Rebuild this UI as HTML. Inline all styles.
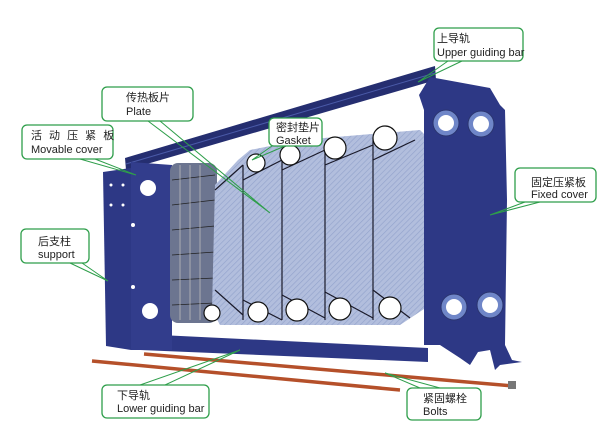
<!DOCTYPE html>
<html><head><meta charset="utf-8"><style>
html,body{margin:0;padding:0;background:#fff;width:600px;height:427px;overflow:hidden}
.t{font-family:"Liberation Sans","Noto Sans CJK SC",sans-serif;font-size:11px;fill:#222}
</style></head><body>
<svg width="600" height="427" viewBox="0 0 600 427" xmlns="http://www.w3.org/2000/svg">
<defs>
<pattern id="hatch" width="4" height="4" patternUnits="userSpaceOnUse" patternTransform="rotate(45)">
<rect width="4" height="4" fill="#b2bedd"/><line x1="0" y1="0" x2="0" y2="4" stroke="#93a3cc" stroke-width="1.3"/>
</pattern>
</defs>
<!-- upper bar -->
<polygon points="125,158 435,66 436,80 126,170" fill="#252e70"/>
<line x1="126" y1="164" x2="435" y2="73" stroke="#4a5aa8" stroke-width="1"/>
<!-- bottom rail -->
<polygon points="160,335 428,348 428,362 140,350" fill="#2d3885"/>
<!-- left support -->
<polygon points="103,172 131,168 131,350 106,346" fill="#2d3885"/>
<!-- movable cover -->
<polygon points="131,162 172,165 172,350 131,350" fill="#323d8c"/>
<circle cx="148" cy="188" r="8" fill="#fff"/>
<circle cx="150" cy="311" r="8" fill="#fff"/>
<circle cx="111" cy="185" r="1.5" fill="#fff"/><circle cx="123" cy="185" r="1.5" fill="#fff"/>
<circle cx="111" cy="205" r="1.5" fill="#fff"/><circle cx="123" cy="205" r="1.5" fill="#fff"/>
<circle cx="133" cy="225" r="2" fill="#fff"/><circle cx="133" cy="287" r="2" fill="#fff"/>
<!-- plate stack -->
<rect x="170" y="163" width="47" height="160" rx="8" fill="#6c7590"/>
<g stroke="#222" stroke-width="0.8">
<line x1="172" y1="180" x2="215" y2="175"/><line x1="172" y1="205" x2="215" y2="200"/><line x1="172" y1="230" x2="215" y2="226"/><line x1="172" y1="255" x2="215" y2="252"/><line x1="172" y1="280" x2="215" y2="278"/><line x1="172" y1="305" x2="215" y2="303"/>
<line x1="180" y1="165" x2="180" y2="320" stroke="#bbb"/><line x1="190" y1="165" x2="190" y2="320" stroke="#bbb"/><line x1="200" y1="165" x2="200" y2="320" stroke="#bbb"/>
</g>
<!-- plates -->
<polygon points="215,185 238,160 250,150 300,140 420,130 430,140 430,305 400,325 220,325 212,310" fill="url(#hatch)"/>
<g stroke="#1a1a2a" stroke-width="1.2" fill="none">
<path d="M243,165 L243,320"/><path d="M282,155 L282,320"/><path d="M325,145 L325,320"/><path d="M373,138 L373,320"/>
<path d="M215,190 L243,165 M243,180 L282,160 M282,170 L325,150 M325,165 L373,145 M373,160 L415,140"/>
<path d="M215,290 L243,315 M243,300 L282,320 M282,295 L325,318 M325,292 L373,318 M373,290 L410,318"/>
</g>
<g fill="#fff" stroke="#111" stroke-width="1.2">
<circle cx="256" cy="163" r="9"/><circle cx="290" cy="155" r="10"/><circle cx="335" cy="148" r="11"/><circle cx="385" cy="138" r="12"/>
<circle cx="212" cy="313" r="8"/><circle cx="258" cy="312" r="10"/><circle cx="297" cy="310" r="11"/><circle cx="340" cy="309" r="11"/><circle cx="390" cy="308" r="11"/>
</g>
<!-- fixed cover -->
<polygon points="419,95 430,77 490,88 500,105 505,110 507,200 505,345 512,360 522,362 500,365 495,370 490,350 478,352 470,365 460,358 440,345 424,345 424,110" fill="#2d3885"/>
<g fill="#6f86c8" stroke="#2b356f" stroke-width="1">
<circle cx="446" cy="123" r="13"/><circle cx="481" cy="124" r="13"/><circle cx="454" cy="307" r="13"/><circle cx="490" cy="305" r="13"/>
</g>
<g fill="#fff"><circle cx="446" cy="123" r="8"/><circle cx="481" cy="124" r="8"/><circle cx="454" cy="307" r="8"/><circle cx="490" cy="305" r="8"/></g>
<!-- bolts -->
<line x1="92" y1="361" x2="400" y2="390" stroke="#b5502a" stroke-width="3.5"/>
<line x1="144" y1="354" x2="513" y2="386" stroke="#b5502a" stroke-width="3.5"/>
<rect x="508" y="381" width="8" height="8" fill="#777"/>
<!-- leaders -->
<g stroke="#2e9e4a" stroke-width="1" fill="none">
<path d="M448,61 L418,82 L462,61"/>
<path d="M148,121 L270,213 L160,121"/>
<path d="M80,159 L136,175 L95,159"/>
<path d="M272,146 L252,160 L285,146"/>
<path d="M525,202 L490,215 L540,202"/>
<path d="M70,263 L108,281 L82,263"/>
<path d="M140,385 L240,350 L165,385"/>
<path d="M420,388 L385,373 L440,388"/>
</g>
<!-- label boxes -->
<g fill="#fff" stroke="#2e9e4a" stroke-width="1.3">
<rect x="434" y="28" width="89" height="33" rx="5"/>
<rect x="102" y="87" width="91" height="34" rx="5"/>
<rect x="22" y="125" width="91" height="34" rx="5"/>
<rect x="269" y="118" width="53" height="28" rx="5"/>
<rect x="515" y="168" width="81" height="34" rx="5"/>
<rect x="21" y="229" width="68" height="34" rx="5"/>
<rect x="102" y="385" width="107" height="33" rx="5"/>
<rect x="407" y="388" width="74" height="32" rx="5"/>
</g>
<text class="t" x="437" y="42">上导轨</text><text class="t" x="437" y="56">Upper guiding bar</text>
<text class="t" x="126" y="101">传热板片</text><text class="t" x="126" y="115">Plate</text>
<text class="t" x="31" y="139" letter-spacing="2">活 动 压 紧 板</text><text class="t" x="31" y="153">Movable cover</text>
<text class="t" x="276" y="131">密封垫片</text><text class="t" x="276" y="144">Gasket</text>
<text class="t" x="531" y="186">固定压紧板</text><text class="t" x="531" y="198">Fixed cover</text>
<text class="t" x="38" y="245">后支柱</text><text class="t" x="38" y="258">support</text>
<text class="t" x="117" y="399">下导轨</text><text class="t" x="117" y="412">Lower guiding bar</text>
<text class="t" x="423" y="402">紧固螺栓</text><text class="t" x="423" y="415">Bolts</text>
</svg>
</body></html>
